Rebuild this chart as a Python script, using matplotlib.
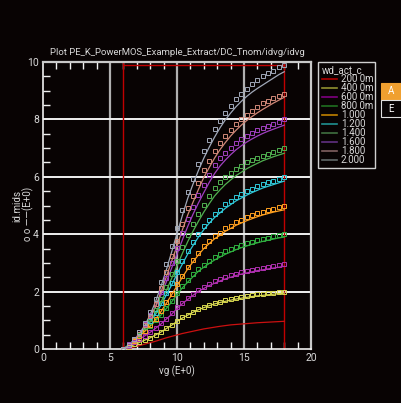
import numpy as np
import matplotlib
matplotlib.use("Agg")
import matplotlib.pyplot as plt
from matplotlib.lines import Line2D
from matplotlib.patches import Rectangle

plt.rcParams['font.family'] = ['Roboto', 'DejaVu Sans']

# gate voltage grid (measured points every 0.4 V)
vg = np.arange(31) * 0.4 + 6.0

labels = ["200 0m", "400 0m", "600 0m", "800 0m", "1.000", "1.200",
          "1.400", "1.600", "1.800", "2.000"]
line_colors = ["#cc1010", "#d8d850", "#b030b0", "#30b040", "#ffa020", "#30c8d8",
               "#50b050", "#a040c0", "#d08878", "#a0a8b8"]
legend_colors = ["#b00000", "#909030", "#800080", "#207020", "#c08000", "#209090",
                 "#407040", "#603080", "#806060", "#606868"]

# simulated curves (lines)
sim = [
    [0, .03, .07, .12, .17, .22, .27, .33, .39, .44, .49, .54, .58, .62, .66, .70,
     .73, .76, .79, .815, .84, .855, .87, .885, .90, .915, .925, .935, .945, .955, .965],
    [0, .07, .15, .23, .31, .39, .49, .59, .71, .83, .96, 1.08, 1.18, 1.28, 1.37, 1.44,
     1.51, 1.57, 1.62, 1.66, 1.70, 1.74, 1.77, 1.80, 1.83, 1.85, 1.87, 1.89, 1.91, 1.93, 1.95],
    [0, .11, .23, .34, .46, .58, .72, .87, 1.04, 1.21, 1.41, 1.58, 1.73, 1.87, 2.01, 2.11,
     2.21, 2.29, 2.37, 2.44, 2.50, 2.56, 2.61, 2.65, 2.69, 2.73, 2.76, 2.79, 2.82, 2.85, 2.88],
    [0, .15, .31, .47, .63, .79, .98, 1.18, 1.41, 1.64, 1.90, 2.13, 2.33, 2.52, 2.71, 2.85,
     2.98, 3.10, 3.20, 3.30, 3.38, 3.46, 3.53, 3.59, 3.65, 3.70, 3.75, 3.79, 3.83, 3.87, 3.90],
    [0, .12, .27, .44, .62, .81, 1.03, 1.30, 1.59, 1.89, 2.20, 2.50, 2.79, 3.04, 3.28, 3.50,
     3.67, 3.84, 3.96, 4.10, 4.20, 4.31, 4.39, 4.47, 4.54, 4.61, 4.67, 4.72, 4.77, 4.81, 4.85],
    [0, .14, .31, .51, .72, .95, 1.21, 1.53, 1.88, 2.23, 2.61, 2.96, 3.31, 3.61, 3.90, 4.16,
     4.38, 4.58, 4.74, 4.90, 5.03, 5.16, 5.26, 5.36, 5.45, 5.53, 5.61, 5.67, 5.73, 5.79, 5.85],
    [0, .12, .28, .48, .71, .97, 1.27, 1.63, 2.03, 2.46, 2.90, 3.33, 3.74, 4.11, 4.45, 4.77,
     5.06, 5.33, 5.54, 5.73, 5.89, 6.04, 6.16, 6.28, 6.38, 6.47, 6.56, 6.63, 6.70, 6.76, 6.82],
    [0, .13, .32, .55, .82, 1.12, 1.47, 1.88, 2.33, 2.82, 3.31, 3.80, 4.27, 4.70, 5.09, 5.45,
     5.80, 6.11, 6.37, 6.58, 6.77, 6.94, 7.08, 7.21, 7.32, 7.42, 7.51, 7.59, 7.66, 7.73, 7.80],
    [0, .11, .28, .49, .77, 1.08, 1.48, 1.98, 2.51, 3.06, 3.59, 4.15, 4.67, 5.12, 5.56, 5.98,
     6.32, 6.65, 6.94, 7.19, 7.42, 7.62, 7.80, 7.96, 8.10, 8.23, 8.35, 8.46, 8.57, 8.67, 8.77],
    [0, .08, .25, .50, .82, 1.20, 1.65, 2.18, 2.75, 3.38, 4.02, 4.65, 5.25, 5.75, 6.22, 6.65,
     7.03, 7.38, 7.70, 7.98, 8.22, 8.44, 8.63, 8.80, 8.95, 9.08, 9.20, 9.32, 9.44, 9.56, 9.66],
]

# measured points (squares), none for the first width
meas = [
    None,
    [0, .08, .16, .24, .32, .40, .50, .60, .72, .84, .98, 1.10, 1.20, 1.30, 1.40, 1.47,
     1.54, 1.60, 1.65, 1.70, 1.74, 1.78, 1.81, 1.84, 1.87, 1.90, 1.92, 1.94, 1.96, 1.98, 2.00],
    [0, .12, .24, .35, .47, .59, .74, .89, 1.06, 1.24, 1.45, 1.62, 1.77, 1.92, 2.07, 2.17,
     2.27, 2.36, 2.43, 2.51, 2.57, 2.63, 2.67, 2.71, 2.76, 2.80, 2.83, 2.86, 2.89, 2.92, 2.95],
    [0, .16, .32, .48, .64, .80, 1.00, 1.20, 1.44, 1.68, 1.96, 2.20, 2.40, 2.60, 2.80, 2.94,
     3.08, 3.20, 3.30, 3.40, 3.48, 3.56, 3.62, 3.68, 3.74, 3.79, 3.84, 3.88, 3.92, 3.96, 4.00],
    [0, .13, .28, .45, .63, .83, 1.05, 1.33, 1.63, 1.93, 2.25, 2.55, 2.85, 3.10, 3.35, 3.58,
     3.75, 3.93, 4.05, 4.20, 4.30, 4.43, 4.50, 4.59, 4.66, 4.73, 4.79, 4.84, 4.89, 4.95, 5.00],
    [0, .15, .33, .54, .75, .99, 1.26, 1.59, 1.95, 2.31, 2.70, 3.06, 3.42, 3.72, 4.02, 4.29,
     4.50, 4.71, 4.86, 5.04, 5.16, 5.31, 5.40, 5.50, 5.59, 5.67, 5.75, 5.81, 5.87, 5.94, 6.00],
    [0, .14, .32, .53, .77, 1.05, 1.37, 1.75, 2.17, 2.63, 3.08, 3.54, 3.96, 4.34, 4.69, 5.01,
     5.32, 5.60, 5.81, 5.99, 6.14, 6.28, 6.39, 6.50, 6.58, 6.66, 6.74, 6.80, 6.86, 6.93, 7.00],
    [0, .16, .36, .60, .88, 1.20, 1.56, 2.00, 2.48, 3.00, 3.52, 4.04, 4.52, 4.96, 5.36, 5.72,
     6.08, 6.40, 6.64, 6.84, 7.02, 7.18, 7.30, 7.42, 7.52, 7.62, 7.70, 7.78, 7.84, 7.92, 8.00],
    [0, .13, .31, .53, .83, 1.16, 1.58, 2.12, 2.67, 3.24, 3.78, 4.36, 4.90, 5.34, 5.79, 6.23,
     6.56, 6.89, 7.17, 7.41, 7.63, 7.83, 8.01, 8.17, 8.31, 8.44, 8.56, 8.65, 8.74, 8.83, 8.90],
    [0, .15, .34, .60, .92, 1.30, 1.75, 2.35, 2.95, 3.60, 4.20, 4.85, 5.48, 5.92, 6.45, 6.91,
     7.28, 7.65, 7.96, 8.23, 8.47, 8.70, 8.89, 9.07, 9.23, 9.37, 9.51, 9.60, 9.70, 9.81, 9.88],
]

# red box of the extraction range
box_x = [6.0, 18.0]
box_top = 9.9

bg = "#080303"
fg = "#d8d8d8"

fig = plt.figure(figsize=(4.02, 4.03), dpi=100, facecolor=bg)
ax = fig.add_axes([43 / 402, 1 - 349 / 403, 268 / 402, 287 / 403], facecolor=bg)

for v in [5, 10, 15]:
    ax.axvline(v, color="#b0b0b0", lw=1.6, zorder=1)
for v in [2, 4, 6, 8]:
    ax.axhline(v, color="#f0f0f0", lw=1.4, zorder=1)

ax.plot([box_x[0], box_x[0]], [0, 10], color="#c00000", lw=1, zorder=2)
ax.plot([box_x[1], box_x[1]], [0, 10], color="#c00000", lw=1, zorder=2)
ax.plot(box_x, [box_top, box_top], color="#c00000", lw=1, zorder=2)

for i in range(len(sim)):
    ax.plot(vg, sim[i], color=line_colors[i], lw=0.9, zorder=3)
    if meas[i] is not None:
        ax.plot(vg, meas[i], ls="none", marker="s", ms=3.0, mfc="none",
                mec=line_colors[i], mew=0.7, zorder=4)

ax.set_xlim(0, 20)
ax.set_ylim(0, 10)

for s in ["left", "bottom"]:
    ax.spines[s].set_color("#f0f0f0")
    ax.spines[s].set_linewidth(1.2)
for s in ["top", "right"]:
    ax.spines[s].set_color("#c8c8c8")
    ax.spines[s].set_linewidth(1.6)

ax.set_xticks([0, 5, 10, 15, 20])
ax.set_yticks([0, 2, 4, 6, 8, 10])
ax.set_xticks(np.arange(1, 20), minor=True)
ax.set_yticks(np.arange(0.5, 10, 0.5), minor=True)
ax.tick_params(which="major", length=0, colors=fg, labelsize=7.5, pad=3)
ax.tick_params(axis="x", which="minor", direction="in", length=5, width=1,
               color="#f0f0f0", top=True, bottom=True)
ax.tick_params(axis="y", which="minor", direction="in", length=5, width=1,
               color="#f0f0f0")
for t, loc in zip(ax.yaxis.get_minor_ticks(), ax.yaxis.get_minorticklocs()):
    if loc < 2:
        t.tick1line.set_color("#c01010")

ax.set_title("Plot PE_K_PowerMOS_Example_Extract/DC_Tnom/idvg/idvg",
             color=fg, fontsize=6.8, pad=5)
ax.set_xlabel("vg (E+0)", color=fg, fontsize=7, labelpad=2)
fig.text(17 / 402, 1 - 206 / 403, "id.mids", color=fg, fontsize=7,
         rotation=90, ha="center", va="center")
fig.text(28 / 402, 1 - 214 / 403, "o o ——(E+0)", color=fg, fontsize=7,
         rotation=90, ha="center", va="center")

handles = [Line2D([0], [0], color=c, lw=1.2) for c in legend_colors]
leg = fig.legend(handles, labels, title="wd_act_c", loc="upper left",
                 bbox_to_anchor=(320 / 402, 1 - 63 / 403), fontsize=7.0,
                 title_fontsize=7.0, frameon=False,
                 handlelength=1.6, handletextpad=0.35, labelspacing=-0.1,
                 borderpad=0.2, borderaxespad=0)
leg.get_title().set_color(fg)
leg._legend_box.align = "left"
for txt in leg.get_texts():
    txt.set_color(fg)

# legend frame
fig.patches.append(Rectangle((318 / 402, 1 - 168 / 403), 57 / 402, 106 / 403,
                             transform=fig.transFigure, facecolor="none",
                             edgecolor="#d0d0d0", lw=1))

fig.patches.append(Rectangle((381 / 402, 1 - 100 / 403), 21 / 402, 17 / 403,
                             transform=fig.transFigure, facecolor="#f0a030",
                             edgecolor="#f0a030", lw=0.8))
fig.patches.append(Rectangle((381 / 402, 1 - 117 / 403), 21 / 402, 17 / 403,
                             transform=fig.transFigure, facecolor=bg,
                             edgecolor="#e0e0e0", lw=0.8))
fig.text(391.5 / 402, 1 - 91.5 / 403, "A", color="white", fontsize=7,
         ha="center", va="center")
fig.text(391.5 / 402, 1 - 108.5 / 403, "E", color="white", fontsize=7,
         ha="center", va="center")

fig.savefig("out.png", dpi=100, facecolor=bg)
